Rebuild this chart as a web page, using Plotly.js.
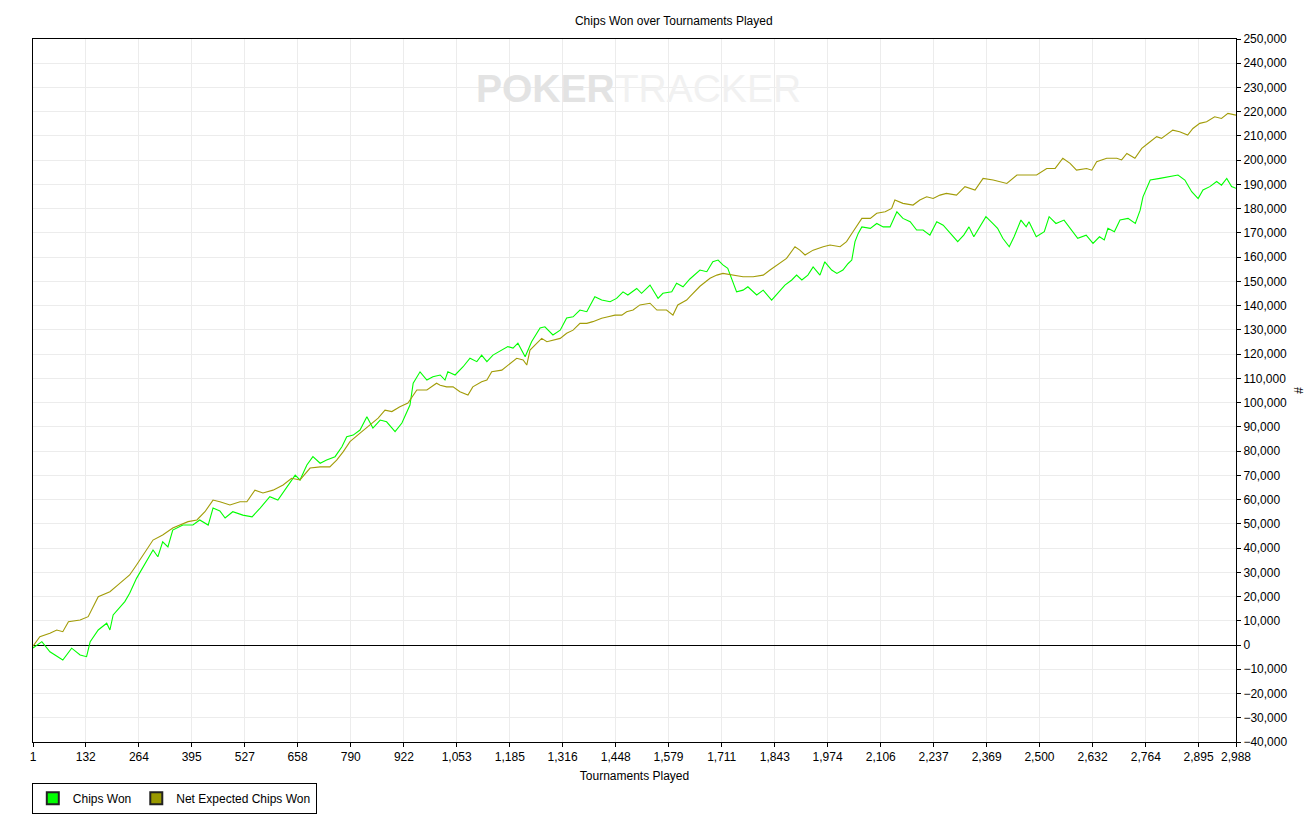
<!DOCTYPE html>
<html>
<head>
<meta charset="utf-8">
<script src="https://cdn.plot.ly/plotly-3.0.1.min.js"></script>
<style>html,body{margin:0;padding:0;background:#fff;} #chart{width:1316px;height:828px;}</style>
</head>
<body>
<div id="chart"></div>
<script>
// Tournament numbers and values
const chipsWonX = [1,23,43,75,97,118,134,143,163,184,192,200,229,241,258,279,299,311,323,336,348,373,398,415,436,448,465,478,497,522,545,565,589,609,631,652,664,681,696,714,730,751,768,780,796,813,830,845,863,879,900,917,937,945,962,979,994,1012,1024,1031,1049,1069,1086,1103,1115,1128,1143,1165,1180,1193,1205,1223,1239,1260,1272,1292,1310,1326,1342,1359,1376,1396,1413,1434,1450,1466,1478,1500,1512,1533,1553,1565,1587,1599,1615,1632,1657,1674,1689,1702,1714,1726,1739,1748,1764,1776,1798,1814,1835,1851,1868,1885,1897,1910,1925,1938,1955,1967,1984,1997,2012,2025,2034,2042,2050,2059,2080,2096,2112,2129,2146,2161,2179,2195,2211,2228,2245,2261,2280,2297,2312,2325,2337,2350,2367,2384,2396,2409,2425,2437,2454,2467,2474,2492,2512,2524,2541,2561,2579,2595,2616,2633,2649,2661,2670,2686,2700,2720,2738,2750,2757,2775,2799,2824,2844,2861,2878,2894,2906,2923,2940,2952,2965,2977,2988];
const chipsWonY = [-1200,1400,-2800,-6200,-1300,-4100,-4800,1400,6200,9000,6200,12400,17900,21400,27500,33800,39200,36400,42600,40500,47400,49500,49500,51600,49500,56500,55300,52400,55000,53600,52900,56500,61200,59800,65300,70100,68100,74300,77700,75000,76300,77700,81800,85900,86600,88700,94200,89500,92800,92100,88000,91600,99000,108000,112700,109300,110700,111400,109300,112700,111400,114800,118300,116900,119600,116900,119600,121700,123100,122500,124500,118900,125100,130800,131300,127900,129900,134900,135400,138200,137500,143700,142300,141600,143000,145700,144400,147100,145100,148500,143000,145100,145700,149200,147800,151000,154700,154000,158100,158800,156800,155400,149200,145700,146400,147800,144400,146400,142300,145100,148500,150600,152600,150600,152600,156000,152600,158100,154700,153300,154700,157400,158800,166400,169800,172500,171900,173900,172500,172500,178700,176000,174600,171200,171200,169100,174600,173200,169800,166400,169100,172500,168400,171900,176700,173900,171900,167800,164300,168400,175300,172500,174600,168400,170500,176700,173900,175300,171200,167800,169100,165700,168400,167100,171900,170500,175300,176000,173900,179400,184900,191800,192500,193200,193900,191800,187000,184200,187700,189100,191200,189700,192500,189100,188400];

const netExpX = [1,18,43,60,75,89,118,138,163,192,212,241,258,279,299,323,348,386,408,428,448,465,490,515,532,552,572,597,622,643,664,689,714,738,755,771,788,813,833,858,875,892,912,932,954,979,1003,1012,1028,1044,1061,1081,1093,1115,1128,1140,1165,1180,1202,1218,1227,1235,1248,1264,1277,1292,1310,1326,1342,1359,1376,1391,1413,1429,1446,1463,1475,1491,1508,1533,1550,1574,1590,1602,1624,1632,1657,1682,1699,1714,1739,1764,1789,1814,1831,1848,1872,1893,1905,1918,1938,1963,1980,2005,2021,2037,2059,2080,2096,2117,2133,2141,2161,2186,2203,2220,2236,2253,2269,2294,2315,2340,2360,2385,2419,2444,2468,2493,2518,2539,2558,2576,2592,2617,2630,2642,2667,2692,2704,2717,2737,2754,2770,2791,2803,2819,2831,2848,2868,2881,2898,2915,2935,2952,2968,2988];
const netExpY = [-500,3400,4900,6200,5500,9600,10300,11700,19900,22000,24800,28900,33000,38500,43300,45400,48300,50900,51600,55000,59800,59100,57800,59100,59100,63900,62700,63900,66000,68800,68100,73000,73500,73500,76300,79700,83900,87400,90000,93600,96900,96300,98300,99800,105200,105200,108000,107200,106500,106500,104500,103100,106500,108600,109300,112700,113400,115500,118300,117600,115500,121700,123800,126500,125100,125800,126500,128600,129900,132700,132700,133400,134800,135400,136100,136100,137500,138200,140300,141000,138200,138200,136100,140300,142300,143700,148000,151300,152600,153300,152600,151900,151900,152600,154700,156800,159500,164300,162900,160900,162900,164300,165000,164300,166400,170500,176000,176000,178100,178700,180100,183600,182200,181500,183600,184900,184200,185600,186300,185600,189100,187700,192500,191800,190400,193900,193900,193900,196600,196600,200800,198700,195900,196600,195900,199400,200800,200800,200100,202800,200800,204900,207000,209700,209000,211100,212400,211700,210400,213100,215200,215900,217900,217200,219300,218600];

const xTickVals = [1,132,264,395,527,658,790,922,1053,1185,1316,1448,1579,1711,1843,1974,2106,2237,2369,2500,2632,2764,2895,2988];
const seriesNames = ['Chips Won', 'Net Expected Chips Won'];
const lineColors = ['#00ff00', '#a29c08'];
const legendColors = ['#00ff00', '#999900'];

const font = 'Liberation Sans, Arial, sans-serif';

const traces = [
  {x: chipsWonX, y: chipsWonY, type: 'scatter', mode: 'lines', name: seriesNames[0],
   line: {color: lineColors[0], width: 1.1}, showlegend: false, hoverinfo: 'skip'},
  {x: netExpX, y: netExpY, type: 'scatter', mode: 'lines', name: seriesNames[1],
   line: {color: lineColors[1], width: 1.1}, showlegend: false, hoverinfo: 'skip'},
  {x: [null], y: [null], type: 'scatter', mode: 'markers', name: seriesNames[0],
   marker: {symbol: 'square', size: 9, color: legendColors[0], line: {color: '#222', width: 1}}},
  {x: [null], y: [null], type: 'scatter', mode: 'markers', name: seriesNames[1],
   marker: {symbol: 'square', size: 9, color: legendColors[1], line: {color: '#222', width: 1}}}
];

const layout = {
  width: 1316, height: 828,
  margin: {l: 33, r: 80, t: 39, b: 86, pad: 0},
  paper_bgcolor: '#ffffff', plot_bgcolor: '#ffffff',
  font: {family: font, size: 12, color: '#000'},
  title: {text: 'Chips Won over Tournaments Played', font: {family: font, size: 12, color: '#000'},
          x: 0.512, xanchor: 'center', y: 0.975, yanchor: 'middle'},
  xaxis: {
    range: [1, 2988], tickvals: xTickVals, tickformat: ',d',
    showgrid: true, gridcolor: '#ececec', gridwidth: 1,
    showline: true, linecolor: '#000', linewidth: 1, mirror: true,
    ticks: 'outside', ticklen: 4, tickcolor: '#000',
    zeroline: false,
    tickfont: {family: font, size: 12, color: '#000'},
    title: {text: 'Tournaments Played', font: {family: font, size: 12, color: '#000'}, standoff: 8}
  },
  yaxis: {
    side: 'right', range: [-40000, 250000], dtick: 10000, tick0: 0, tickformat: ',d',
    showgrid: true, gridcolor: '#ececec', gridwidth: 1,
    showline: true, linecolor: '#000', linewidth: 1, mirror: true,
    ticks: 'outside', ticklen: 4, tickcolor: '#000',
    zeroline: true, zerolinecolor: '#000', zerolinewidth: 1,
    tickfont: {family: font, size: 12, color: '#000'},
    title: {text: '#', font: {family: font, size: 12, color: '#000'}, standoff: 8}
  },
  showlegend: true,
  legend: {
    orientation: 'h', x: -0.001, xanchor: 'left', y: -0.058, yanchor: 'top',
    bordercolor: '#000', borderwidth: 1, bgcolor: '#fff',
    font: {family: font, size: 12, color: '#000'},
    itemsizing: 'constant', itemwidth: 30
  },
  annotations: [{
    xref: 'paper', yref: 'paper', x: 0.503, y: 0.930, xanchor: 'center', yanchor: 'middle',
    text: '<b>POKER</b><span style="color:#f1f1f1">TRACKER</span>', showarrow: false,
    font: {family: 'Liberation Sans, Arial, sans-serif', size: 39, color: '#e3e3e3'}
  }]
};

Plotly.newPlot('chart', traces, layout, {displayModeBar: false, staticPlot: true});
</script>
</body>
</html>
